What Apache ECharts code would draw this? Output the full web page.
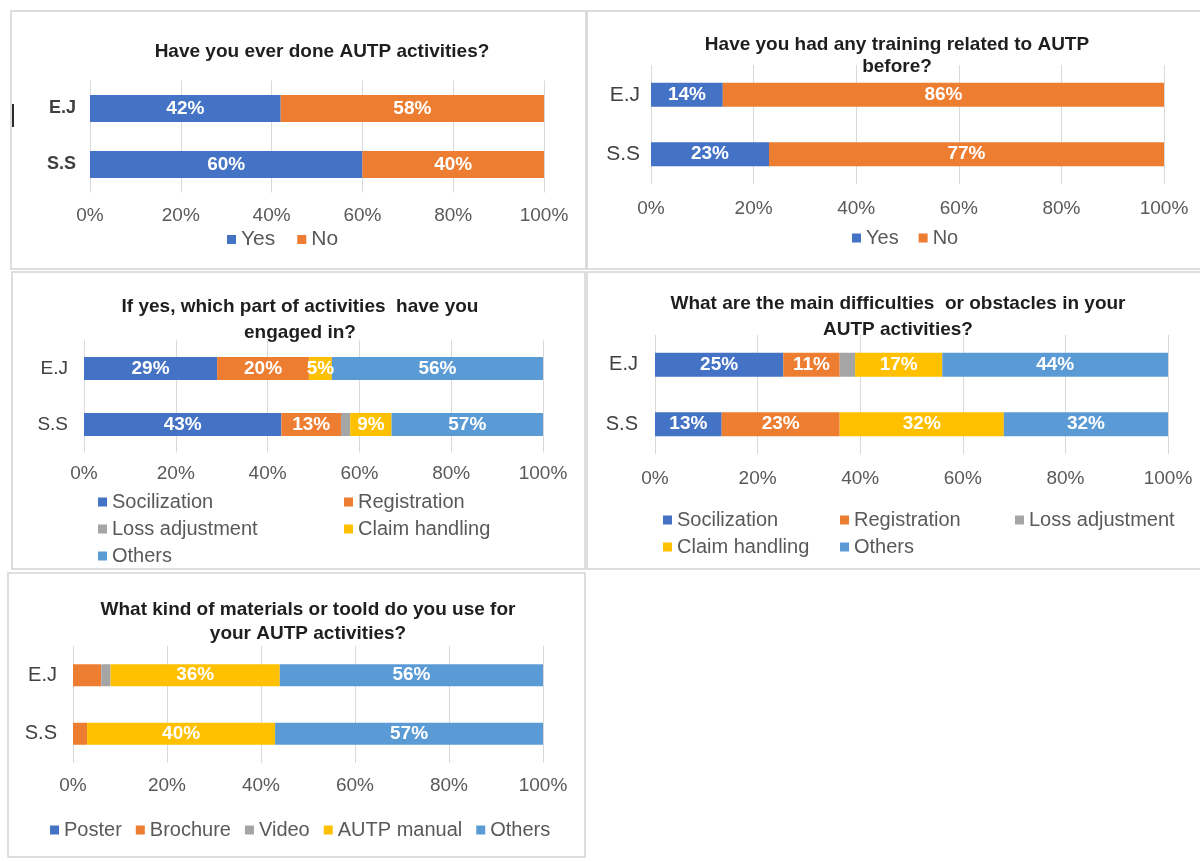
<!DOCTYPE html>
<html>
<head>
<meta charset="utf-8">
<title>AUTP survey</title>
<script src="https://cdn.jsdelivr.net/npm/echarts@6/dist/echarts.min.js"></script>
<style>
  html, body { margin: 0; padding: 0; background: #ffffff; }
  #chart { width: 1200px; height: 861px; }
</style>
</head>
<body>
<div id="chart"></div>
<script>
// Respondent groups
const categories = ['E.J', 'S.S'];

// Q1: Have you ever done AUTP activities?
const q1Yes = [42, 60];
const q1No = [58, 40];

// Q2: Training related to AUTP
const q2Yes = [14, 23];
const q2No = [86, 77];

// Q3: Activities engaged in
const q3Socialization = [29, 43];
const q3Registration = [20, 13];
const q3LossAdjustment = [0, 2];
const q3ClaimHandling = [5, 9];
const q3Others = [56, 57];

// Q4: Main difficulties or obstacles
const q4Socialization = [25, 13];
const q4Registration = [11, 23];
const q4LossAdjustment = [3, 0];
const q4ClaimHandling = [17, 32];
const q4Others = [44, 32];

// Q5: Materials or tools used
const q5Poster = [0, 0];
const q5Brochure = [6, 3];
const q5Video = [2, 0];
const q5Manual = [36, 40];
const q5Others = [56, 57];

// Percent axis ticks
const axisMin = 0;
const axisMax = 100;
const axisStep = 20;

const titles = [
  'Have you ever done AUTP activities?',
  'Have you had any training related to AUTP\nbefore?',
  'If yes, which part of activities  have you\nengaged in?',
  'What are the main difficulties  or obstacles in your\nAUTP activities?',
  'What kind of materials or toold do you use for\nyour AUTP activities?'
];

const COLORS = {
  blue: '#4472C4',
  orange: '#ED7D31',
  gray: '#A5A5A5',
  yellow: '#FFC000',
  light: '#5B9BD5'
};
const FONT = '"Liberation Sans", Arial, sans-serif';

// Layout of each panel: plot area, bar thickness and label spacing
const panels = [
  { grid: { left: 90, right: 656, top: 80.5, bottom: 861 - 192.5 }, bar: 27, xMargin: 14, yMargin: 14, catBold: true, catSize: 18,
    title: { x: 322, y: 40, lh: 23 } },
  { grid: { left: 651, right: 36, top: 65, bottom: 861 - 184 }, bar: 24, xMargin: 15, yMargin: 11, catBold: false, catSize: 21,
    title: { x: 897, y: 34, lh: 22 } },
  { grid: { left: 84, right: 657, top: 340.5, bottom: 861 - 452.5 }, bar: 23, xMargin: 12, yMargin: 16, catBold: false, catSize: 19,
    title: { x: 300, y: 294, lh: 26 } },
  { grid: { left: 655, right: 32, top: 335, bottom: 861 - 454 }, bar: 24, xMargin: 15, yMargin: 17, catBold: false, catSize: 20,
    title: { x: 898, y: 291, lh: 26 } },
  { grid: { left: 73, right: 657, top: 646, bottom: 861 - 763 }, bar: 22, xMargin: 13, yMargin: 16, catBold: false, catSize: 20,
    title: { x: 308, y: 598, lh: 24 } }
];

// Series definitions per panel: [name, values, colour, showLabel]
const panelSeries = [
  [['Yes', q1Yes, COLORS.blue, true], ['No', q1No, COLORS.orange, true]],
  [['Yes', q2Yes, COLORS.blue, true], ['No', q2No, COLORS.orange, true]],
  [['Socilization', q3Socialization, COLORS.blue, true],
   ['Registration', q3Registration, COLORS.orange, true],
   ['Loss adjustment', q3LossAdjustment, COLORS.gray, false],
   ['Claim handling', q3ClaimHandling, COLORS.yellow, true],
   ['Others', q3Others, COLORS.light, true]],
  [['Socilization', q4Socialization, COLORS.blue, true],
   ['Registration', q4Registration, COLORS.orange, true],
   ['Loss adjustment', q4LossAdjustment, COLORS.gray, false],
   ['Claim handling', q4ClaimHandling, COLORS.yellow, true],
   ['Others', q4Others, COLORS.light, true]],
  [['Poster', q5Poster, COLORS.blue, false],
   ['Brochure', q5Brochure, COLORS.orange, false],
   ['Video', q5Video, COLORS.gray, false],
   ['AUTP manual', q5Manual, COLORS.yellow, true],
   ['Others', q5Others, COLORS.light, true]]
];

const grid = [], xAxis = [], yAxis = [], series = [], title = [];

panels.forEach((p, i) => {
  grid.push(Object.assign({ containLabel: false }, p.grid));
  title.push({
    text: titles[i],
    left: p.title.x,
    top: p.title.y,
    padding: 0,
    textAlign: 'center',
    textStyle: { fontFamily: FONT, fontSize: 19, fontWeight: 'bold', color: '#1e1e1e', lineHeight: p.title.lh }
  });
  xAxis.push({
    type: 'value', gridIndex: i, min: axisMin, max: axisMax, interval: axisStep,
    axisLine: { show: false }, axisTick: { show: false },
    axisLabel: { formatter: '{value}%', margin: p.xMargin, fontSize: 19, color: '#595959', fontFamily: FONT },
    splitLine: { show: true, lineStyle: { color: '#d9d9d9', width: 1 } }
  });
  yAxis.push({
    type: 'category', gridIndex: i, data: categories, inverse: true,
    axisLine: { show: false }, axisTick: { show: false },
    axisLabel: { margin: p.yMargin, fontSize: p.catSize, color: '#404040', fontFamily: FONT,
                 fontWeight: p.catBold ? 'bold' : 'normal' },
    splitLine: { show: false }
  });
  panelSeries[i].forEach(([name, values, color, showLabel]) => {
    series.push({
      type: 'bar', name, data: values, stack: 'panel' + i,
      xAxisIndex: i, yAxisIndex: i, barWidth: p.bar, clip: true,
      itemStyle: { color },
      label: {
        show: showLabel, position: 'inside', color: '#ffffff', fontSize: 19, fontWeight: 'bold', fontFamily: FONT,
        formatter: (d) => (d.value > 0 ? d.value + '%' : '')
      },
      emphasis: { disabled: true }
    });
  });
});

const legendText = { fontFamily: FONT, fontSize: 20, color: '#595959' };
const legendBase = { icon: 'rect', itemWidth: 9, itemHeight: 9, padding: 0, selectedMode: false };
const legend = [
  Object.assign({}, legendBase, { data: ['Yes', 'No'], left: 227, top: 229, itemGap: 22,
    textStyle: Object.assign({}, legendText, { fontSize: 21 }) }),
  Object.assign({}, legendBase, { data: ['Yes', 'No'], left: 852, top: 228, itemGap: 20, textStyle: legendText }),
  Object.assign({}, legendBase, { data: ['Socilization', 'Loss adjustment', 'Others'], orient: 'vertical',
    left: 98, top: 492, itemGap: 7, textStyle: legendText }),
  Object.assign({}, legendBase, { data: ['Registration', 'Claim handling'], orient: 'vertical',
    left: 344, top: 492, itemGap: 7, textStyle: legendText }),
  Object.assign({}, legendBase, { data: ['Socilization', 'Claim handling'], orient: 'vertical',
    left: 663, top: 510, itemGap: 7, textStyle: legendText }),
  Object.assign({}, legendBase, { data: ['Registration', 'Others'], orient: 'vertical',
    left: 840, top: 510, itemGap: 7, textStyle: legendText }),
  Object.assign({}, legendBase, { data: ['Loss adjustment'], orient: 'vertical',
    left: 1015, top: 510, textStyle: legendText }),
  Object.assign({}, legendBase, { data: ['Poster', 'Brochure', 'Video', 'AUTP manual', 'Others'],
    left: 50, top: 820, itemGap: 14, textStyle: legendText })
];

// Panel frames
const frame = (x, y, w, h) => ({
  type: 'rect', shape: { x, y, width: w, height: h }, silent: true, z: -10,
  style: { fill: '#ffffff', stroke: '#d4d4d4', lineWidth: 1.5 }
});
const graphic = [
  frame(11, 11, 575, 258),
  frame(587, 11, 620, 258),
  frame(12, 272, 573, 297),
  frame(587, 272, 620, 297),
  frame(8, 573, 577, 284),
  { type: 'line', shape: { x1: 13, y1: 104, x2: 13, y2: 127 }, silent: true,
    style: { stroke: '#2b2b2b', lineWidth: 2 } }
];

const chart = echarts.init(document.getElementById('chart'), null, { renderer: 'canvas' });
chart.setOption({
  animation: false,
  backgroundColor: '#ffffff',
  textStyle: { fontFamily: FONT },
  title, grid, xAxis, yAxis, series, legend, graphic,
  tooltip: { show: false }
});
</script>
</body>
</html>
